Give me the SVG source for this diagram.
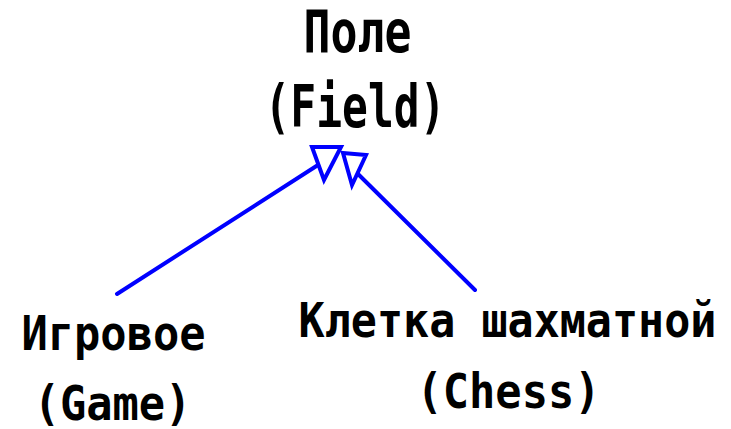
<svg xmlns="http://www.w3.org/2000/svg" width="731" height="429" viewBox="0 0 731 429">
<style>
.t{font-family:"DejaVu Sans Mono","Liberation Mono",monospace;font-weight:bold;fill:#000;text-anchor:middle}
.big{font-size:59px}
.sm{font-size:48px}
.ln{stroke:#0000ff;stroke-width:4;fill:none;stroke-linecap:round}
.ah{stroke:#0000ff;stroke-width:4;fill:#fff;stroke-linejoin:miter}
</style>
<rect width="731" height="429" fill="#fff"/>
<g id="connectors">
<line class="ln" x1="117" y1="294" x2="318" y2="165"/>
<line class="ln" x1="475" y1="290" x2="357" y2="173"/>
<polygon class="ah" points="312,147 341,147 324,180"/>
<polygon class="ah" points="343,153 366,155 352,185"/>
</g>
<g id="field">
<text class="t big" transform="translate(357.5,52) scale(0.76,1)">Поле</text>
<text class="t big" transform="translate(355,127) scale(0.728,1)">(Field)</text>
</g>
<g id="game">
<text class="t sm" transform="translate(113.5,350) scale(0.91,1)">Игровое</text>
<text class="t sm" transform="translate(112.5,420) scale(0.91,1)">(Game)</text>
</g>
<g id="chess">
<text class="t sm" transform="translate(507.5,337) scale(0.904,1)">Клетка шахматной</text>
<text class="t sm" transform="translate(508.5,408) scale(0.91,1)">(Chess)</text>
</g>
</svg>
